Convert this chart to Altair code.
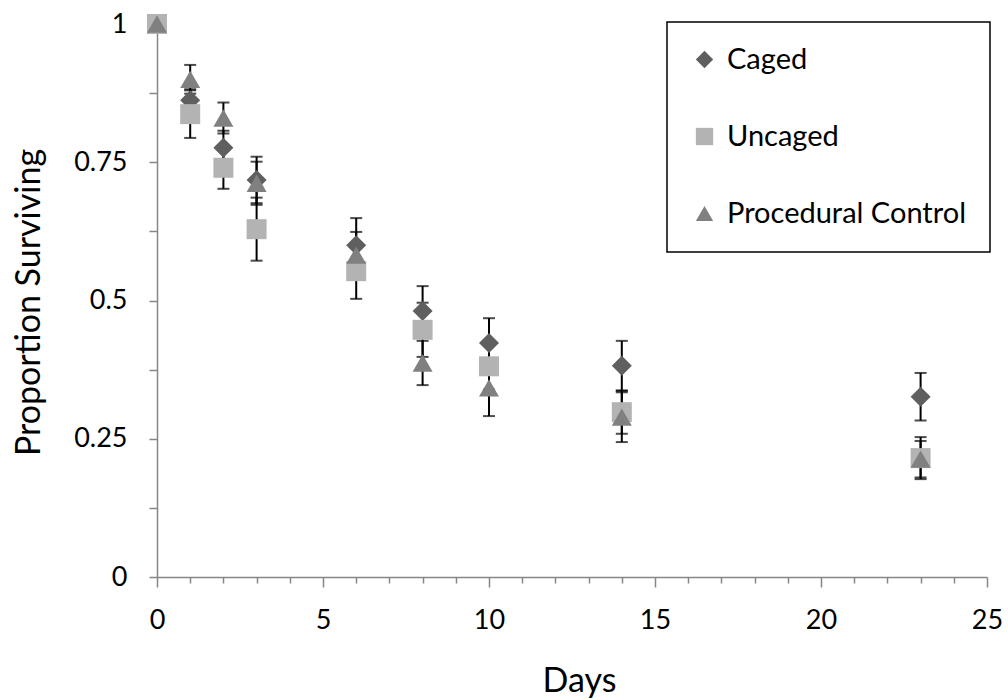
import altair as alt
import pandas as pd

# Survival over time for three treatments (mean proportion surviving, ± error)
days = [0, 1, 2, 3, 6, 8, 10, 14, 23]
caged = [1.0, 0.862, 0.776, 0.718, 0.600, 0.481, 0.423, 0.382, 0.326]
caged_err = [0.0, 0.020, 0.031, 0.042, 0.049, 0.045, 0.045, 0.045, 0.043]
uncaged = [1.0, 0.837, 0.740, 0.629, 0.553, 0.447, 0.381, 0.298, 0.215]
uncaged_err = [0.0, 0.043, 0.038, 0.057, 0.050, 0.049, 0.042, 0.039, 0.038]
procedural = [1.0, 0.900, 0.830, 0.712, 0.582, 0.387, 0.342, 0.289, 0.213]
procedural_err = [0.0, 0.026, 0.028, 0.039, 0.042, 0.040, 0.051, 0.045, 0.033]

groups = ["Caged", "Uncaged", "Procedural Control"]
shapes = ["diamond", "square", "triangle-up"]
colors = ["#5f5f5f", "#b3b3b3", "#808080"]

x_ticks = list(range(0, 26))
y_ticks = [i * 0.125 for i in range(9)]

rows = []
for gi, (name, vals, errs) in enumerate(
    [(groups[0], caged, caged_err), (groups[1], uncaged, uncaged_err),
     (groups[2], procedural, procedural_err)]
):
    for d, v, e in zip(days, vals, errs):
        rows.append({"group": name, "gi": gi, "day": d, "value": v,
                     "lo": v - e, "hi": v + e, "err": e})
df = pd.DataFrame(rows)

FONT = "Lato"

x_enc = alt.X(
    "day:Q",
    scale=alt.Scale(domain=[0, 25], nice=False, zero=False),
    axis=alt.Axis(
        values=x_ticks,
        labelExpr="datum.value % 5 === 0 ? datum.value : ''",
        tickSize={"condition": {"test": "datum.value % 5 === 0", "value": 10}, "value": 6},
        labelPadding=20,
        labelFlush=False,
        labelOverlap=False,
        titleX=422,
        titleY=104,
        titleBaseline="middle",
    ),
    title="Days",
)
y_scale = alt.Scale(domain=[0, 1], nice=False)
y_axis = alt.Axis(
    values=y_ticks,
    labelExpr="(datum.value * 4) % 1 === 0 ? datum.value : ''",
    tickSize=8,
    labelPadding=22,
    labelFlush=False,
    labelOverlap=False,
    titleX=-128,
    titleY=278,
    titleAngle=-90,
    titleBaseline="middle",
)

base = alt.Chart(df)
bars = base.transform_filter("datum.err > 0")

rules = bars.mark_rule(color="black", strokeWidth=2).encode(
    x=x_enc,
    y=alt.Y("lo:Q", scale=y_scale, axis=y_axis, title="Proportion Surviving"),
    y2="hi:Q",
)

caps = bars.transform_fold(["lo", "hi"], as_=["end", "pos"]).mark_tick(
    color="black", orient="horizontal", size=12, thickness=2
).encode(
    x=x_enc,
    y=alt.Y("pos:Q", scale=y_scale, axis=y_axis, title="Proportion Surviving"),
)

points = base.mark_point(filled=True, size=400, opacity=1, strokeWidth=0).encode(
    x=x_enc,
    y=alt.Y("value:Q", scale=y_scale, axis=y_axis, title="Proportion Surviving"),
    shape=alt.Shape("group:N", scale=alt.Scale(domain=groups, range=shapes), legend=None),
    color=alt.Color(
        "group:N",
        scale=alt.Scale(domain=groups, range=colors),
        legend=alt.Legend(
            title=None,
            orient="none",
            legendX=510,
            legendY=-2,
            padding=23,
            labelOffset=8,
            rowPadding=47,
            labelFontSize=29,
            labelFont=FONT,
            labelColor="black",
            labelLimit=400,
            symbolSize=300,
            strokeColor="black",
            fillColor="white",
        ),
    ),
    order=alt.Order("gi:Q"),
)

chart = (
    alt.layer(rules, caps, points)
    .resolve_legend(shape="shared", color="shared")
    .properties(
        width=830,
        height=553,
        padding={"left": 157, "top": 24, "right": 21, "bottom": 123},
        autosize=alt.AutoSizeParams(type="none"),
        background="white",
    )
    .configure_view(stroke=None)
    .configure_axis(
        grid=False,
        domainColor="#868686",
        domainWidth=1.5,
        tickColor="#868686",
        tickWidth=1.5,
        labelFont=FONT,
        labelFontSize=27,
        labelColor="black",
        titleFont=FONT,
        titleFontSize=34,
        titleFontWeight="normal",
        titleColor="black",
    )
    .configure_legend(strokeWidth=1.5)
)

chart.save("out.html", embed_options={"renderer": "svg", "actions": False})
